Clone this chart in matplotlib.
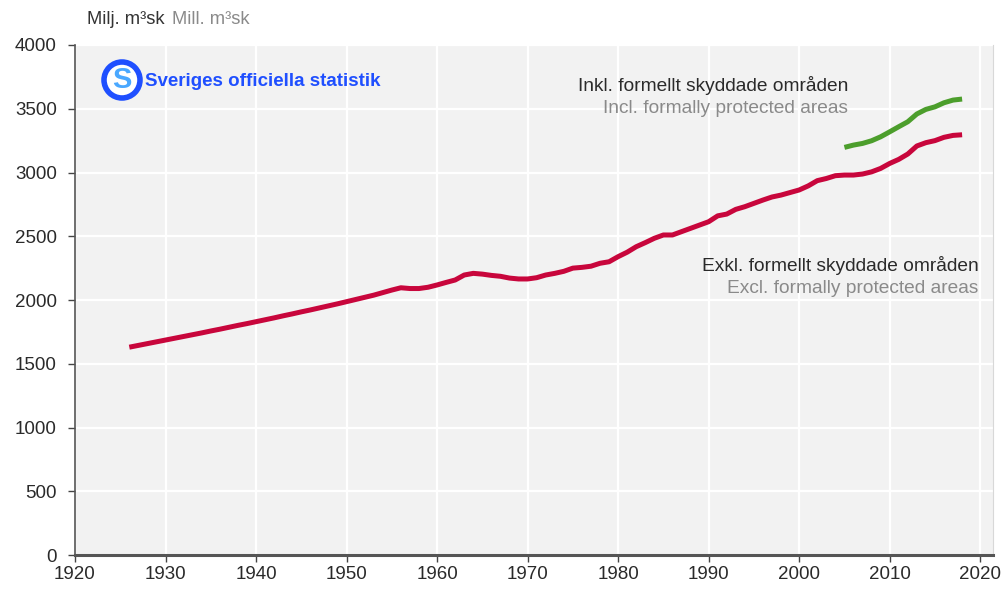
import matplotlib
matplotlib.use('Agg')
from matplotlib import pyplot as plt
from matplotlib.patches import Circle

plt.rcParams['font.family'] = ['Liberation Sans', 'DejaVu Sans']

# Virkesförråd, miljoner m³sk
years_excl = list(range(1926, 2019))
vol_excl = [1630, 1644, 1658, 1672, 1686, 1700, 1714, 1728, 1742, 1757,
            1771, 1786, 1801, 1815, 1830, 1845, 1860, 1876, 1891, 1907,
            1922, 1938, 1954, 1970, 1987, 2004, 2021, 2038, 2058, 2078,
            2096, 2090, 2090, 2100, 2118, 2138, 2157, 2196, 2209, 2203,
            2193, 2186, 2172, 2165, 2165, 2175, 2196, 2209, 2225, 2250,
            2256, 2265, 2288, 2300, 2340, 2375, 2418, 2450, 2484, 2510,
            2510, 2536, 2562, 2588, 2614, 2660, 2674, 2711, 2732, 2758,
            2784, 2808, 2823, 2843, 2863, 2895, 2936, 2953, 2975, 2980,
            2980, 2988, 3005, 3032, 3071, 3103, 3145, 3208, 3234, 3250,
            3276, 3291, 3296]

years_incl = list(range(2005, 2019))
vol_incl = [3197, 3215, 3228, 3249, 3280, 3319, 3359, 3398, 3459, 3495,
            3515, 3547, 3568, 3576]

xticks = list(range(1920, 2021, 10))
yticks = list(range(0, 4001, 500))

fig = plt.figure(figsize=(10.08, 5.89), dpi=100)
ax = fig.add_axes([0.0744, 0.0577, 0.9106, 0.8659])
ax.set_facecolor('#f2f2f2')

ax.plot(years_excl, vol_excl, color='#c8063c', linewidth=3.6, solid_capstyle='butt')
ax.plot(years_incl, vol_incl, color='#4c9e2c', linewidth=3.6, solid_capstyle='butt')

ax.set_xlim(1920, 2021.4)
ax.set_ylim(0, 4000)
ax.set_xticks(xticks)
ax.set_yticks(yticks)
ax.grid(True, color='white', linewidth=1.6)
ax.set_axisbelow(True)
ax.tick_params(labelsize=13.5, colors='#444444', labelcolor='#2a2a2a', length=5, width=1)
ax.tick_params(axis='x', pad=3)
ax.tick_params(axis='y', pad=8)

ax.spines['top'].set_visible(False)
ax.spines['right'].set_color('#d8d8d8')
ax.spines['left'].set_color('#555555')
ax.spines['left'].set_linewidth(1.2)
ax.spines['bottom'].set_color('#555555')
ax.spines['bottom'].set_linewidth(2.2)

# enhet
fig.text(87 / 1008, 1 - 19 / 589, 'Milj. m³sk', fontsize=13.2, color='#333333', va='center')
fig.text(172 / 1008, 1 - 19 / 589, 'Mill. m³sk', fontsize=13.2, color='#8a8a8a', va='center')

# serieetiketter
ax.text(2005.4, 3680, 'Inkl. formellt skyddade områden', fontsize=13.8, color='#2a2a2a', ha='right', va='center')
ax.text(2005.4, 3500, 'Incl. formally protected areas', fontsize=13.8, color='#8a8a8a', ha='right', va='center')
ax.text(2019.8, 2270, 'Exkl. formellt skyddade områden', fontsize=13.8, color='#2a2a2a', ha='right', va='center')
ax.text(2019.8, 2090, 'Excl. formally protected areas', fontsize=13.8, color='#8a8a8a', ha='right', va='center')

# logotyp
logo_x, logo_y = 122 / 1008, 1 - 80 / 589
circ = Circle((122, 589 - 80), 18, transform=None, facecolor='white',
              edgecolor='#1f4fff', linewidth=4, zorder=5)
fig.patches.append(circ)
fig.text(logo_x, logo_y, 'S', fontsize=21, fontweight='bold', color='#4aa8ff',
         ha='center', va='center', zorder=6)
fig.text(145 / 1008, 1 - 82 / 589, 'Sveriges officiella statistik', fontsize=13.5,
         fontweight='bold', color='#1f4fff', va='center', zorder=6)

fig.savefig('out.png', dpi=100, facecolor='white')
